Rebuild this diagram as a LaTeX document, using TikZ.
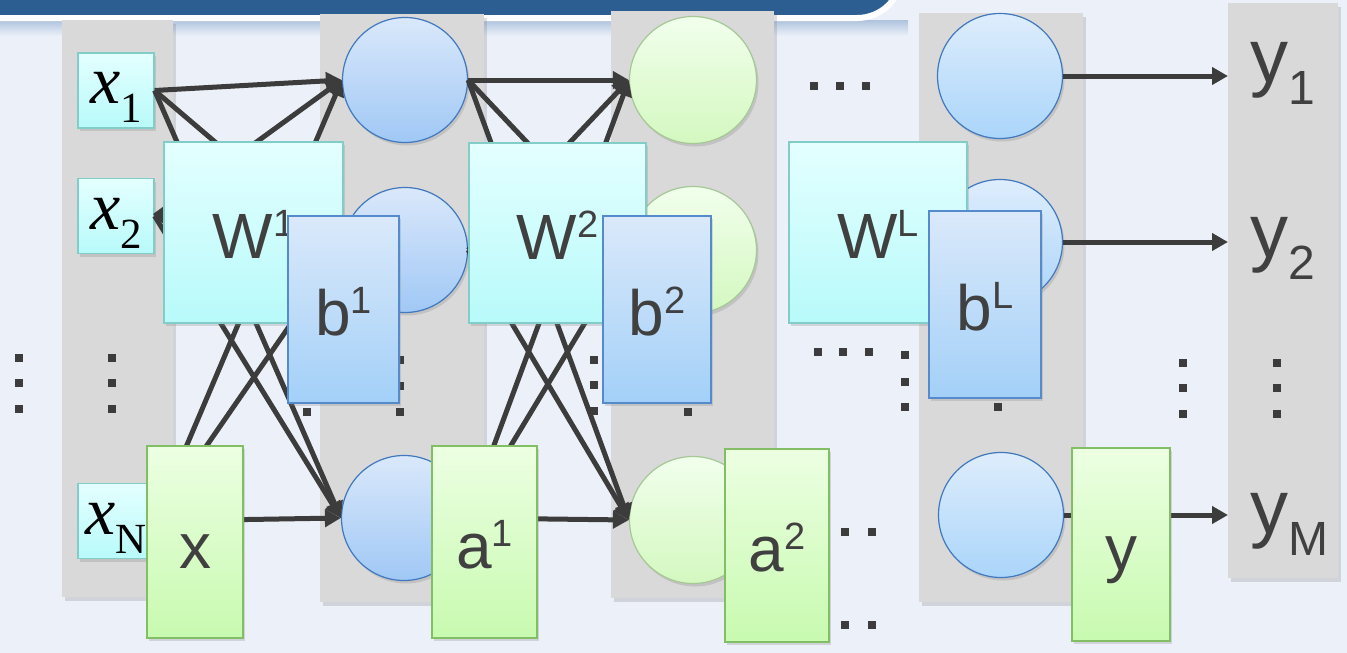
\documentclass[tikz,border=0pt]{standalone}
\usepackage{fontspec}
\setmainfont{Liberation Sans}
\newfontfamily\timesfont{Liberation Serif}
\usetikzlibrary{arrows.meta,shadows}
\definecolor{bg}{RGB}{236,241,249}
\definecolor{banner}{RGB}{44,94,146}
\definecolor{bannersh}{RGB}{175,195,222}
\definecolor{colgray}{RGB}{217,217,217}
\definecolor{linec}{RGB}{60,60,60}
\definecolor{lblc}{RGB}{64,64,64}
\definecolor{cyantop}{RGB}{228,255,255}
\definecolor{cyanbot}{RGB}{184,250,250}
\definecolor{cyanbd}{RGB}{130,205,200}
\definecolor{bluetop}{RGB}{218,233,250}
\definecolor{bluebot}{RGB}{163,208,248}
\definecolor{bluebd}{RGB}{85,138,205}
\definecolor{ntop}{RGB}{218,232,251}
\definecolor{nbot}{RGB}{160,200,245}
\definecolor{nbd}{RGB}{65,120,190}
\definecolor{mtop}{RGB}{222,237,252}
\definecolor{mbot}{RGB}{170,213,250}
\definecolor{gntop}{RGB}{241,255,236}
\definecolor{gnbot}{RGB}{212,248,192}
\definecolor{gnbd}{RGB}{165,200,150}
\definecolor{gbtop}{RGB}{236,255,226}
\definecolor{gbbot}{RGB}{200,250,176}
\definecolor{gbbd}{RGB}{130,190,100}
\newcommand{\supl}[2]{#1\raisebox{22pt}{\fontsize{38}{38}\selectfont #2}}
\newcommand{\inlbl}[1]{{\timesfont\itshape x}\raisebox{-19pt}{\fontsize{43}{43}\selectfont\timesfont #1}}
\newcommand{\outlbl}[1]{y\raisebox{-22pt}{\fontsize{48}{48}\selectfont #1}}
\begin{document}
\begin{tikzpicture}[x=1pt,y=-1pt,
  shd/.style={drop shadow={shadow xshift=2pt,shadow yshift=-3pt,opacity=0.25}},
  colshd/.style={drop shadow={shadow xshift=3pt,shadow yshift=-4pt,opacity=0.25}},
  inbox/.style={shd,draw=cyanbd,line width=1.2pt,top color=cyantop,bottom color=cyanbot,
    minimum width=76pt,minimum height=75pt,inner sep=0pt,text height=45pt,text depth=19pt,
    font=\fontsize{68}{68}\selectfont,text=black},
  ovl/.style={shd,line width=1.2pt,inner sep=0pt,text height=52pt,text depth=0pt,
    font=\fontsize{64}{64}\selectfont,text=lblc},
  wbox/.style={ovl,draw=cyanbd,top color=cyantop,bottom color=cyanbot,minimum width=179pt,minimum height=181pt},
  bbox/.style={ovl,draw=bluebd,top color=bluetop,bottom color=bluebot,minimum width=111pt,minimum height=187pt},
  gbox/.style={ovl,draw=gbbd,top color=gbtop,bottom color=gbbot,minimum width=100pt,minimum height=192pt},
  neuA/.style={shd,circle,inner sep=0pt,minimum size=125pt,draw=nbd,line width=1.2pt,top color=ntop,bottom color=nbot},
  neuB/.style={shd,circle,inner sep=0pt,minimum size=127pt,draw=gnbd,line width=1.2pt,top color=gntop,bottom color=gnbot},
  neuC/.style={shd,circle,inner sep=0pt,minimum size=125pt,draw=nbd,line width=1.2pt,top color=mtop,bottom color=mbot},
  outl/.style={anchor=base west,inner xsep=22pt,inner ysep=0pt,font=\fontsize{76}{76}\selectfont,text=lblc},
  conn/.style={draw=linec,line width=5pt,-{Triangle[length=16pt,width=17pt]}}
]
\useasboundingbox (0,0) rectangle (1347,653);
\fill[bg] (0,0) rectangle (1347,653);
% banner
\shade[top color=bannersh,bottom color=bg] (0,20) rectangle (908,36);
\draw[white,line width=6pt,fill=banner] (-10,-60) -- (902,-60) [rounded corners=45pt] -- (902,18) -- (-10,18);
% gray columns
\foreach \a/\b/\c/\d in {62/20/173/597, 320/14/484/602, 611/11/774/598, 919/13/1083/602, 1228/3/1338/578}
  \fill[colgray,colshd] (\a,\b) rectangle (\c,\d);
% dots
\foreach \u/\v in {19/358,19/383,19/409, 112/358,112/383,112/409,
  307/360,307/386,307/412, 400/360,400/386,400/412,
  594/360,594/385,594/411, 688/360,688/386,688/412,
  905/355,905/382,905/407, 998/355,998/382,998/407,
  818/352,843/352,869/352, 814/86,840/86,866/86,
  845/532,872/532, 845/625,872/625,
  1183/363,1183/388,1183/414, 1277/363,1277/388,1277/414}
  \fill[linec] (\u-4,\v-4) rectangle (\u+4,\v+4);
% inputs
\node[inbox] (x1) at (116,90.5) {\inlbl{1}};
\node[inbox] (x2) at (116,216) {\inlbl{2}};
\node[inbox] (xN) at (116,521) {\inlbl{N}};
% neurons
\node[neuA] (n11) at (405,80) {};
\node[neuA] (n12) at (405,250) {};
\node[neuA] (n13) at (404,518) {};
\node[neuB] (n21) at (693,80) {};
\node[neuB] (n22) at (693,250) {};
\node[neuB] (n23) at (693,520) {};
\node[neuC] (n31) at (1000,76) {};
\node[neuC] (n32) at (1000,242) {};
\node[neuC] (n33) at (1001,515) {};
% outputs
\node[outl] (y1) at (1228,82) {\outlbl{1}};
\node[outl] (y2) at (1228,257) {\outlbl{2}};
\node[outl] (yM) at (1228,533) {\outlbl{M}};
% connectors
\foreach \s/\t in {x1/n11,x1/n12,x1/n13,x2/n11,x2/n13,xN/n11,xN/n12,xN/n13,
  n11/n21,n11/n22,n11/n23,n12/n21,n12/n22,n12/n23,n13/n21,n13/n22,n13/n23}
  \draw[conn] (\s.east) -- (\t.west);
\draw[conn,{Triangle[length=14pt,width=16pt]}-{Triangle[length=16pt,width=17pt]}] (x2.east) -- (n12.west);
\draw[conn] (n31.east) -- (n31.east -| y1.west);
\draw[conn] (n32.east) -- (n32.east -| y2.west);
\draw[conn] (n33.east) -- (n33.east -| yM.west);
% overlay boxes
\node[wbox] (W1) at (253.5,232.5) {\supl{W}{1}};
\node[bbox] (b1) at (343.5,309.5) {\supl{b}{1}};
\node[gbox,minimum width=96pt] (xb) at (195,542) {x};
\node[gbox,minimum width=105pt] (a1) at (484.5,542) {\supl{a}{1}};
\node[wbox,minimum width=177pt,minimum height=180pt] (W2) at (557.5,233) {\supl{W}{2}};
\node[bbox,minimum width=108pt] (b2) at (657,309.5) {\supl{b}{2}};
\node[gbox,minimum width=104pt,minimum height=193pt] (a2) at (777,545.5) {\supl{a}{2}};
\node[wbox,minimum width=178pt] (WL) at (878,232.5) {\supl{W}{L}};
\node[bbox,minimum width=112pt] (bL) at (985,304.5) {\supl{b}{L}};
\node[gbox,minimum width=98pt,minimum height=193pt] (yb) at (1121,544.5) {y};
\end{tikzpicture}
\end{document}
